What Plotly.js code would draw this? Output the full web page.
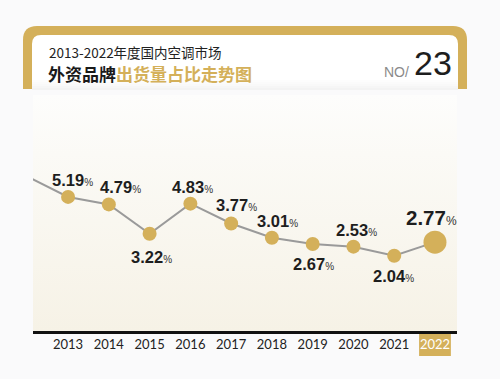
<!DOCTYPE html>
<html><head><meta charset="utf-8">
<script src="https://cdn.plot.ly/plotly-3.0.1.min.js"></script>
<style>html,body{margin:0;padding:0;background:#fafafb;}#chart{width:500px;height:379px;}</style>
</head><body><div id="chart"></div>
<script>
// ---- data ----
const years = [2013, 2014, 2015, 2016, 2017, 2018, 2019, 2020, 2021, 2022];
const shares = [5.19, 4.79, 3.22, 4.83, 3.77, 3.01, 2.67, 2.53, 2.04, 2.77];
const tickLabels = ['2013','2014','2015','2016','2017','2018','2019','2020','2021','2022'];
const prevYear = 2012;      // line continues in from the left edge
const prevShare = 6.28;     // estimated from the lead-in segment
const titleLine1 = '2013-2022年度国内空调市场';
const titleBlack = '外资品牌';
const titleGold = '出货量占比走势图';
const issueLabel = 'NO/';
const issueNumber = '23';

// ---- style / layout ----
const W = 500, H = 379;
const M = {l: 33, r: 43, t: 95, b: 48};
const PW = W - M.l - M.r, PH = H - M.t - M.b;
const px = x => (x - M.l) / PW;
const py = y => (H - M.b - y) / PH;
const GOLD = '#d4b05a';
const labelOffsets = [[4,-17],[12,-17],[2,23],[2,-17],[5,-18],[6,-17],[1,20],[3,-17],[-1,20],[-3,-25]];
const highlightYear = 2022;
const numFont = '"Liberation Sans", Arial, sans-serif';

function pathPx(cmds) {
  return cmds.map(c => {
    if (typeof c === 'string') return c;
    const out = [];
    for (let i = 0; i < c.length; i += 2) out.push(px(c[i]).toFixed(5) + ',' + py(c[i+1]).toFixed(5));
    return out.join(' ');
  }).join(' ');
}

const lineTrace = {
  x: [prevYear].concat(years), y: [prevShare].concat(shares),
  type: 'scatter', mode: 'lines',
  line: {color: '#9a9a9a', width: 2}, hoverinfo: 'skip', showlegend: false
};
const markerTrace = {
  x: years, y: shares, type: 'scatter', mode: 'markers',
  marker: {color: GOLD, opacity: 1, size: years.map(y => y === highlightYear ? 23 : 14), line: {width: 0}},
  cliponaxis: false, showlegend: false
};

const annotations = years.map((yr, i) => {
  const big = yr === highlightYear;
  return {
    x: yr, y: shares[i], xref: 'x', yref: 'y', showarrow: false, borderpad: 0,
    xshift: labelOffsets[i][0], yshift: -labelOffsets[i][1],
    text: '<b>' + shares[i].toFixed(2) + '</b><span style="font-size:' + (big ? 12 : 10) + 'px;color:#333">%</span>',
    font: {family: numFont, size: big ? 20.5 : 16.5, color: '#1e1e1e'}
  };
});
annotations.push(
  {xref:'paper', yref:'paper', x: px(47), y: py(52), xanchor:'left', yanchor:'middle', showarrow:false,
   text: titleLine1, font:{family:'"Noto Sans CJK SC", sans-serif', size:13.5, color:'#222'}},
  {xref:'paper', yref:'paper', x: px(46), y: py(73), xanchor:'left', yanchor:'middle', showarrow:false,
   text: '<b>' + titleBlack + '</b><b><span style="color:' + GOLD + '">' + titleGold + '</span></b>',
   font:{family:'"Noto Sans CJK SC", sans-serif', size:17, color:'#1a1a1a'}},
  {xref:'paper', yref:'paper', x: px(411), y: py(72), xanchor:'right', yanchor:'middle', showarrow:false,
   text: issueLabel, font:{family:numFont, size:14, color:'#8a8a8a'}},
  {xref:'paper', yref:'paper', x: px(412), y: py(63), xanchor:'left', yanchor:'middle', showarrow:false,
   text: issueNumber, font:{family:'"Liberation Sans", Arial, sans-serif', size:34, color:'#1e1e1e'}}
);

const shapes = [
  {type:'path', xref:'paper', yref:'paper', layer:'below', line:{width:0}, fillcolor: GOLD,
   path: pathPx(['M',[23,89],'L',[23,40],'Q',[23,26,37,26],'L',[453,26],'Q',[467,26,467,40],'L',[467,89],'Z'])},
  {type:'path', xref:'paper', yref:'paper', layer:'below', line:{width:0}, fillcolor:'#ffffff',
   path: pathPx(['M',[32,89],'L',[32,44],'Q',[32,35,41,35],'L',[449,35],'Q',[458,35,458,44],'L',[458,89],'Z'])}
];
const shadeCols = ['#fdfdfd','#fbfbfb','#f9f9f9','#f6f6f6','#f3f3f3'];
shadeCols.forEach((c, i) => {
  shapes.push({type:'rect', xref:'paper', yref:'paper', layer:'below', line:{width:0}, fillcolor:c,
    x0: px(32), x1: px(458), y0: py(80 + i*2), y1: py(82 + i*2)});
});
shapes.push({type:'rect', xref:'x', yref:'paper', layer:'below', line:{width:0}, fillcolor: GOLD,
  x0: highlightYear - 0.39, x1: highlightYear + 0.39, y0: py(356), y1: py(333)});

const bgSvg = "<svg xmlns='http://www.w3.org/2000/svg' width='100' height='100' preserveAspectRatio='none'>" +
  "<defs><linearGradient id='g' x1='0' y1='0' x2='0' y2='1'><stop offset='0' stop-color='#fdfdfc'/>" +
  "<stop offset='0.25' stop-color='#fbfaf6'/><stop offset='1' stop-color='#f6f2e6'/></linearGradient></defs><rect width='100' height='100' fill='url(#g)'/></svg>";

const layout = {
  width: W, height: H, margin: M,
  paper_bgcolor: '#fafafb', plot_bgcolor: 'rgba(0,0,0,0)',
  showlegend: false,
  xaxis: {
    range: [2012.14, 2022.54], tickvals: years,
    ticktext: tickLabels.map((t, i) => years[i] === highlightYear ? '<span style="color:#ffffff">' + t + '</span>' : t),
    showgrid: false, zeroline: false, showline: true, linecolor: '#111', linewidth: 2.5,
    ticks: '', tickfont: {family: 'Lato, "Open Sans", sans-serif', size: 13, color: '#222'},
    fixedrange: true
  },
  yaxis: {range: [-1.98, 10.64], visible: false, showgrid: false, zeroline: false, fixedrange: true},
  images: [{source: 'data:image/svg+xml;charset=utf-8,' + encodeURIComponent(bgSvg),
    xref:'paper', yref:'paper', x:0, y:1, sizex:1, sizey:1, xanchor:'left', yanchor:'top',
    sizing:'stretch', layer:'below'}],
  shapes: shapes,
  annotations: annotations
};
Plotly.newPlot('chart', [lineTrace, markerTrace], layout, {displayModeBar: false, staticPlot: true});
</script></body></html>
